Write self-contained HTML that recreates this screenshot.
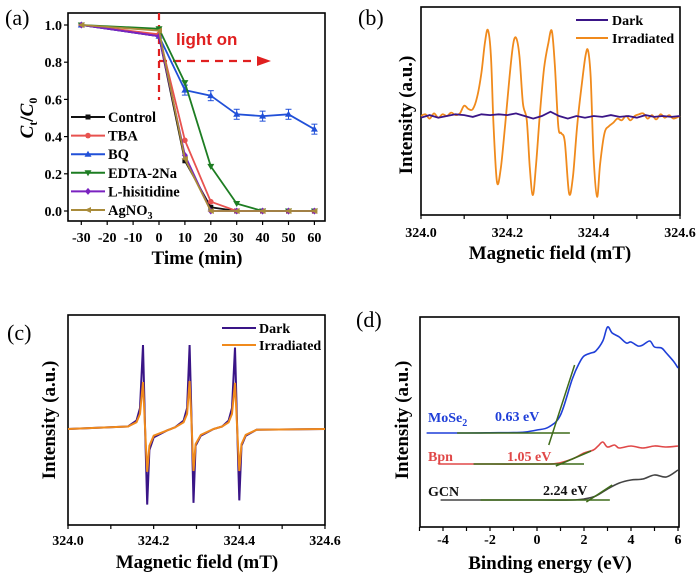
<!DOCTYPE html>
<html><head><meta charset="utf-8"><style>
html,body{margin:0;padding:0;background:#fff}
svg{display:block;font-family:"Liberation Serif",serif}
</style></head><body>
<svg id="fig" width="700" height="576" viewBox="0 0 700 576" xmlns="http://www.w3.org/2000/svg"></svg>
<script>
// ---- Panel (a) data ----
const aTimes=[-30,0,10,20,30,40,50,60];
const aXTicks=[-30,-20,-10,0,10,20,30,40,50,60];
const aYTicks=[0.0,0.2,0.4,0.6,0.8,1.0];
const aNames=["Control","TBA","BQ","EDTA-2Na","L-hisitidine","AgNO3"];
const aControl=[1,0.94,0.27,0.02,0,0,0,0];
const aTBA=[1,0.95,0.38,0.05,0,0,0,0];
const aBQ=[1,0.94,0.65,0.62,0.52,0.51,0.52,0.44];
const aEDTA=[1,0.98,0.69,0.24,0.04,0,0,0];
const aLhis=[1,0.94,0.30,0.0,0,0,0,0];
const aAg=[1,0.97,0.28,0,0,0,0,0];
// ---- Panel (b) data ----
const bField=[324.00,324.01,324.02,324.03,324.04,324.05,324.06,324.07,324.08,324.09,324.10,324.11,324.12,324.13,324.14,324.148,324.155,324.162,324.168,324.176,324.185,324.195,324.205,324.213,324.22,324.228,324.236,324.245,324.252,324.259,324.266,324.275,324.285,324.295,324.303,324.31,324.318,324.325,324.333,324.343,324.352,324.362,324.372,324.381,324.387,324.393,324.4,324.408,324.415,324.425,324.435,324.445,324.455,324.465,324.475,324.485,324.495,324.505,324.515,324.525,324.535,324.545,324.555,324.565,324.575,324.585,324.6];
const bIrr=[0,0.02,-0.03,0.03,-0.02,0.02,0,0.04,0.01,0.03,0.12,0.08,0.08,0.22,0.5,0.85,1.0,0.7,-0.1,-0.77,-0.6,-0.1,0.45,0.82,0.91,0.7,0.15,-0.05,-0.6,-0.92,-0.6,0.0,0.55,0.85,0.99,0.6,-0.12,-0.2,-0.3,-0.9,-0.7,-0.1,0.35,0.7,0.76,0.45,-0.5,-0.94,-0.55,-0.2,-0.12,-0.08,-0.03,-0.05,0,-0.05,0,0.02,0.03,-0.03,0.01,-0.04,0.02,-0.02,0.01,-0.03,0];
const bDarkField=[324.0,324.02,324.04,324.06,324.08,324.1,324.12,324.14,324.16,324.18,324.2,324.22,324.24,324.26,324.28,324.3,324.32,324.34,324.36,324.38,324.4,324.42,324.44,324.46,324.48,324.5,324.52,324.54,324.56,324.58,324.6];
const bDark=[-0.02,0.01,-0.02,0.0,0.02,0.01,-0.01,0.02,0.01,0.02,0.01,0.03,0.0,-0.03,0.0,0.05,0.0,-0.03,0.0,-0.02,0.0,-0.01,0.01,-0.01,0.0,-0.02,0.01,-0.01,0.0,-0.01,0];
const bXTicks=[324.0,324.2,324.4,324.6];
// ---- Panel (c) data ----
const cField=[324.0,324.14,324.16,324.168,324.175,324.18,324.185,324.19,324.2,324.23,324.25,324.27,324.278,324.284,324.289,324.293,324.298,324.31,324.34,324.36,324.375,324.383,324.39,324.395,324.40,324.405,324.415,324.44,324.6];
const cDark=[0,0.03,0.1,0.25,1.0,0,-0.9,-0.25,-0.1,-0.02,0.02,0.1,0.25,1.0,0,-0.88,-0.2,-0.08,0,0.03,0.1,0.25,0.97,0,-0.85,-0.2,-0.08,-0.01,0];
const cIrr=[0,0.03,0.08,0.18,0.56,0,-0.51,-0.2,-0.08,-0.02,0.02,0.08,0.18,0.57,0,-0.5,-0.18,-0.07,0,0.03,0.08,0.18,0.55,0,-0.5,-0.18,-0.07,-0.01,0];
// ---- Panel (d) data ----
const dXTicks=[-4,-2,0,2,4,6];
const dMoE=[-4.7,-3,-2,-1,-0.5,0,0.5,1.0,1.5,1.8,2.0,2.3,2.5,2.8,3.0,3.2,3.5,3.8,4.0,4.3,4.5,4.8,5.0,5.3,5.5,5.8,6.0];
const dMoI=[4.7,4.7,4.71,4.72,4.75,4.85,5.0,5.6,7.4,8.2,8.55,8.7,8.8,9.3,10.0,9.7,9.5,9.2,9.25,9.05,9.1,9.3,9.0,8.95,8.7,8.3,7.95];
const dBpE=[-4.2,-2,0,0.8,1.5,2.0,2.4,2.6,2.8,3.0,3.3,3.5,4,4.5,5,5.5,6];
const dBpI=[3.15,3.15,3.15,3.17,3.4,3.7,3.85,4.05,4.25,4.0,4.1,3.95,4.05,3.95,4.05,4.0,4.05];
const dGcE=[-4.1,0,1.5,2.0,2.5,3.0,3.5,4.0,4.5,5,5.5,6];
const dGcI=[1.35,1.35,1.35,1.4,1.55,1.9,2.2,2.35,2.4,2.6,2.5,2.85];
const dFitsE=[[-3.4,1.4],[0.5,1.6],[-2.7,2.0],[0.8,2.3],[-2.4,3.1],[2.1,3.2]];
const dFitsI=[[4.7,4.7],[4.1,8.1],[3.15,3.15],[3.05,3.8],[1.35,1.35],[1.25,2.1]];

const NS="http://www.w3.org/2000/svg";
const svg=document.getElementById('fig');
function el(tag,attrs,parent,text){const e=document.createElementNS(NS,tag);for(const k in attrs)e.setAttribute(k,attrs[k]);if(text!==undefined)e.textContent=text;(parent||svg).appendChild(e);return e;}
function poly(xs,ys,fx,fy){return xs.map((x,i)=>fx(x).toFixed(1)+','+fy(ys[i]).toFixed(1)).join(' ');}
function smooth(xs,ys,fx,fy){
 const p=xs.map((x,i)=>[fx(x),fy(ys[i])]);
 let d='M'+p[0][0].toFixed(1)+','+p[0][1].toFixed(1);
 for(let i=0;i<p.length-1;i++){
  const p0=p[i-1]||p[i],p1=p[i],p2=p[i+1],p3=p[i+2]||p2;
  const c1=[p1[0]+(p2[0]-p0[0])/6,p1[1]+(p2[1]-p0[1])/6];
  const c2=[p2[0]-(p3[0]-p1[0])/6,p2[1]-(p3[1]-p1[1])/6];
  d+=' C'+c1.map(v=>v.toFixed(1)).join(',')+' '+c2.map(v=>v.toFixed(1)).join(',')+' '+p2.map(v=>v.toFixed(1)).join(',');
 }
 return d;
}

// ================= Panel (a) =================
{
const g=el('g',{});


const X=v=>159+(v)*2.59, Y=v=>211-v*186;
const fr=el('rect',{x:68,y:13,width:257,height:208,fill:'none',stroke:'#000','stroke-width':1.6},g);


aXTicks.forEach(t=>{el('line',{x1:X(t),x2:X(t),y1:221,y2:225,stroke:'#000','stroke-width':1.2},g);
 const tx=el('text',{x:X(t),y:242,'text-anchor':'middle','font-size':14,'font-weight':'bold'},g,String(t));
 
 });
aYTicks.forEach(t=>{el('line',{x1:64,x2:68,y1:Y(t),y2:Y(t),stroke:'#000','stroke-width':1.2},g);
 const tx=el('text',{x:62,y:Y(t)+5,'text-anchor':'end','font-size':14,'font-weight':'bold'},g,t.toFixed(1));
 
 });
const xt=el('text',{x:197,y:264,'text-anchor':'middle','font-size':19,'font-weight':'bold'},g,'Time (min)');


const yt=el('text',{x:0,y:0,transform:'translate(33,118) rotate(-90)','text-anchor':'middle','font-size':19,'font-weight':'bold'},g);


el('tspan',{'font-style':'italic'},yt,'C');el('tspan',{'font-size':12,dy:4},yt,'t');el('tspan',{dy:-4},yt,'/');el('tspan',{'font-style':'italic'},yt,'C');el('tspan',{'font-size':12,dy:4},yt,'0');
const pl=el('text',{x:5,y:25,'font-size':22},g,'(a)');


const vd=el('line',{x1:159,x2:159,y1:13,y2:100,stroke:'#e02020','stroke-width':2.2,'stroke-dasharray':'7,5'},g);


el('line',{x1:159,x2:258,y1:61,y2:61,stroke:'#e02020','stroke-width':2.2,'stroke-dasharray':'8,6'},g);
el('polygon',{points:'257,56 271,61 257,66',fill:'#e02020'},g);
const lo=el('text',{x:176,y:45,'font-family':'Liberation Sans, sans-serif','font-size':17,'font-weight':'bold',fill:'#e02020'},g,'light on');


const series=[aControl,aTBA,aBQ,aEDTA,aLhis,aAg];
const cols=['#111','#e8524f','#2150d8','#1d7d22','#7a22c0','#a98b3a'];
const shapes=['s','c','t','v','d','l'];
function marker(x,y,s,c,p){
 if(s==='s')return el('rect',{x:x-2.5,y:y-2.5,width:5,height:5,fill:c},p);
 if(s==='c')return el('circle',{cx:x,cy:y,r:2.8,fill:c},p);
 if(s==='t')return el('polygon',{points:`${x},${y-3.5} ${x-3.5},${y+2.5} ${x+3.5},${y+2.5}`,fill:c},p);
 if(s==='v')return el('polygon',{points:`${x},${y+3.5} ${x-3.5},${y-2.5} ${x+3.5},${y-2.5}`,fill:c},p);
 if(s==='d')return el('polygon',{points:`${x},${y-3.5} ${x-3},${y} ${x},${y+3.5} ${x+3},${y}`,fill:c},p);
 return el('polygon',{points:`${x-3.5},${y} ${x+3},${y-3} ${x+3},${y+3}`,fill:c},p);
}
series.forEach((s,i)=>{
 const sg=el('g',{},g);
 
 
 el('polyline',{points:poly(aTimes,s,X,Y),fill:'none',stroke:cols[i],'stroke-width':1.8},sg);
 s.forEach((v,j)=>{
  if(i===2&&j>=2){el('line',{x1:X(aTimes[j]),x2:X(aTimes[j]),y1:Y(v)-5,y2:Y(v)+5,stroke:cols[i],'stroke-width':1},sg);
   el('line',{x1:X(aTimes[j])-3,x2:X(aTimes[j])+3,y1:Y(v)-5,y2:Y(v)-5,stroke:cols[i]},sg);
   el('line',{x1:X(aTimes[j])-3,x2:X(aTimes[j])+3,y1:Y(v)+5,y2:Y(v)+5,stroke:cols[i]},sg);}
  const m=marker(X(aTimes[j]),Y(v),shapes[i],cols[i],sg);
  
  
 });
 const ly=117+i*18.6;
 const lg=el('g',{},g);
 
 
 el('line',{x1:71,x2:105,y1:ly,y2:ly,stroke:cols[i],'stroke-width':2},lg);
 marker(88,ly,shapes[i],cols[i],lg);
 const t=el('text',{x:108,y:ly+5,'font-size':14.5,'font-weight':'bold'},lg);
 if(aNames[i]==='AgNO3'){t.textContent='AgNO';el('tspan',{'font-size':10,dy:4},t,'3');}
 else t.textContent=aNames[i];
});
}

// ================= Panel (b) =================
{
const g=el('g',{});


const X=v=>421+(v-324)*431.7, Y=v=>116-v*86;
const fr=el('rect',{x:421,y:7,width:259,height:208,fill:'none',stroke:'#000','stroke-width':1.6},g);


[324.0,324.1,324.2,324.3,324.4,324.5,324.6].forEach(t=>el('line',{x1:X(t),x2:X(t),y1:215,y2:219,stroke:'#000','stroke-width':1.2},g));
bXTicks.forEach(t=>{const tx=el('text',{x:X(t),y:237,'text-anchor':'middle','font-size':14,'font-weight':'bold'},g,t.toFixed(1));
 
 });
const xt=el('text',{x:550,y:259,'text-anchor':'middle','font-size':19,'font-weight':'bold'},g,'Magnetic field (mT)');


const yt=el('text',{transform:'translate(412,115) rotate(-90)','text-anchor':'middle','font-size':19,'font-weight':'bold'},g,'Intensity (a.u.)');


const pl=el('text',{x:358,y:25,'font-size':22},g,'(b)');


const ir=el('path',{d:smooth(bField,bIrr,X,Y),fill:'none',stroke:'#f08a1c','stroke-width':1.8},g);


const dk=el('polyline',{points:poly(bDarkField,bDark,X,Y),fill:'none',stroke:'#3a1587','stroke-width':1.8},g);


[['Dark','#3a1587',20],['Irradiated','#f08a1c',38]].forEach(([n,c,y])=>{
 const lg=el('g',{},g);
 
 
 el('line',{x1:576,x2:608,y1:y,y2:y,stroke:c,'stroke-width':2},lg);
 el('text',{x:612,y:y+5,'font-size':14,'font-weight':'bold'},lg,n);
});
}

// ================= Panel (c) =================
{
const g=el('g',{});


const X=v=>68+(v-324)*428.3, Y=v=>429-v*84;
const fr=el('rect',{x:68,y:315,width:257,height:210,fill:'none',stroke:'#000','stroke-width':1.6},g);


[324.0,324.1,324.2,324.3,324.4,324.5,324.6].forEach(t=>el('line',{x1:X(t),x2:X(t),y1:525,y2:529,stroke:'#000','stroke-width':1.2},g));
bXTicks.forEach(t=>{const tx=el('text',{x:X(t),y:545,'text-anchor':'middle','font-size':14,'font-weight':'bold'},g,t.toFixed(1));
 
 });
const xt=el('text',{x:197,y:568,'text-anchor':'middle','font-size':19,'font-weight':'bold'},g,'Magnetic field (mT)');


const yt=el('text',{transform:'translate(55,420) rotate(-90)','text-anchor':'middle','font-size':19,'font-weight':'bold'},g,'Intensity (a.u.)');


const pl=el('text',{x:7,y:340,'font-size':22},g,'(c)');


const dk=el('polyline',{points:poly(cField,cDark,X,Y),fill:'none',stroke:'#3a1587','stroke-width':2},g);


const ir=el('polyline',{points:poly(cField,cIrr,X,Y),fill:'none',stroke:'#f08a1c','stroke-width':2},g);


[['Dark','#3a1587',328],['Irradiated','#f08a1c',345]].forEach(([n,c,y])=>{
 const lg=el('g',{},g);
 
 
 el('line',{x1:222,x2:256,y1:y,y2:y,stroke:c,'stroke-width':2},lg);
 el('text',{x:259,y:y+5,'font-size':14,'font-weight':'bold'},lg,n);
});
}

// ================= Panel (d) =================
{
const g=el('g',{});


const X=v=>537+v*23.5, Y=v=>527-v*20;
const fr=el('rect',{x:420,y:317,width:259,height:210,fill:'none',stroke:'#000','stroke-width':1.6},g);


[-5,-4,-3,-2,-1,0,1,2,3,4,5,6].forEach(t=>el('line',{x1:X(t),x2:X(t),y1:527,y2:531,stroke:'#000','stroke-width':1.2},g));
dXTicks.forEach(t=>{const tx=el('text',{x:X(t),y:544,'text-anchor':'middle','font-size':14,'font-weight':'bold'},g,String(t));
 
 });
const xt=el('text',{x:550,y:569,'text-anchor':'middle','font-size':19,'font-weight':'bold'},g,'Binding energy (eV)');


const yt=el('text',{transform:'translate(408,420) rotate(-90)','text-anchor':'middle','font-size':19,'font-weight':'bold'},g,'Intensity (a.u.)');


const pl=el('text',{x:356,y:327,'font-size':22},g,'(d)');


[[dMoE,dMoI,'#1f3fd8','mose2-line'],[dBpE,dBpI,'#e04848','bpn-line'],[dGcE,dGcI,'#444','gcn-line']].forEach(([e,i,c,n])=>{
 const p=el('path',{d:smooth(e,i,X,Y),fill:'none',stroke:c,'stroke-width':1.6},g);
 
 
});
dFitsE.forEach((e,k)=>{
 const l=el('line',{x1:X(e[0]),x2:X(e[1]),y1:Y(dFitsI[k][0]),y2:Y(dFitsI[k][1]),stroke:'#3f6b1a','stroke-width':1.5},g);
 
 
});
const labs=[['MoSe','2',428,422,'#1f3fd8'],['0.63 eV','',495,421,'#1f3fd8'],['Bpn','',428,461,'#e04848'],['1.05 eV','',507,461,'#e04848'],['GCN','',428,496,'#111'],['2.24 eV','',543,495,'#111']];
labs.forEach(([t,sub,x,y,c])=>{
 const tx=el('text',{x:x,y:y,'font-size':14,'font-weight':'bold',fill:c},g,t);
 if(sub)el('tspan',{'font-size':10,dy:4},tx,sub);
 
 
});
}
</script>
</body></html>
